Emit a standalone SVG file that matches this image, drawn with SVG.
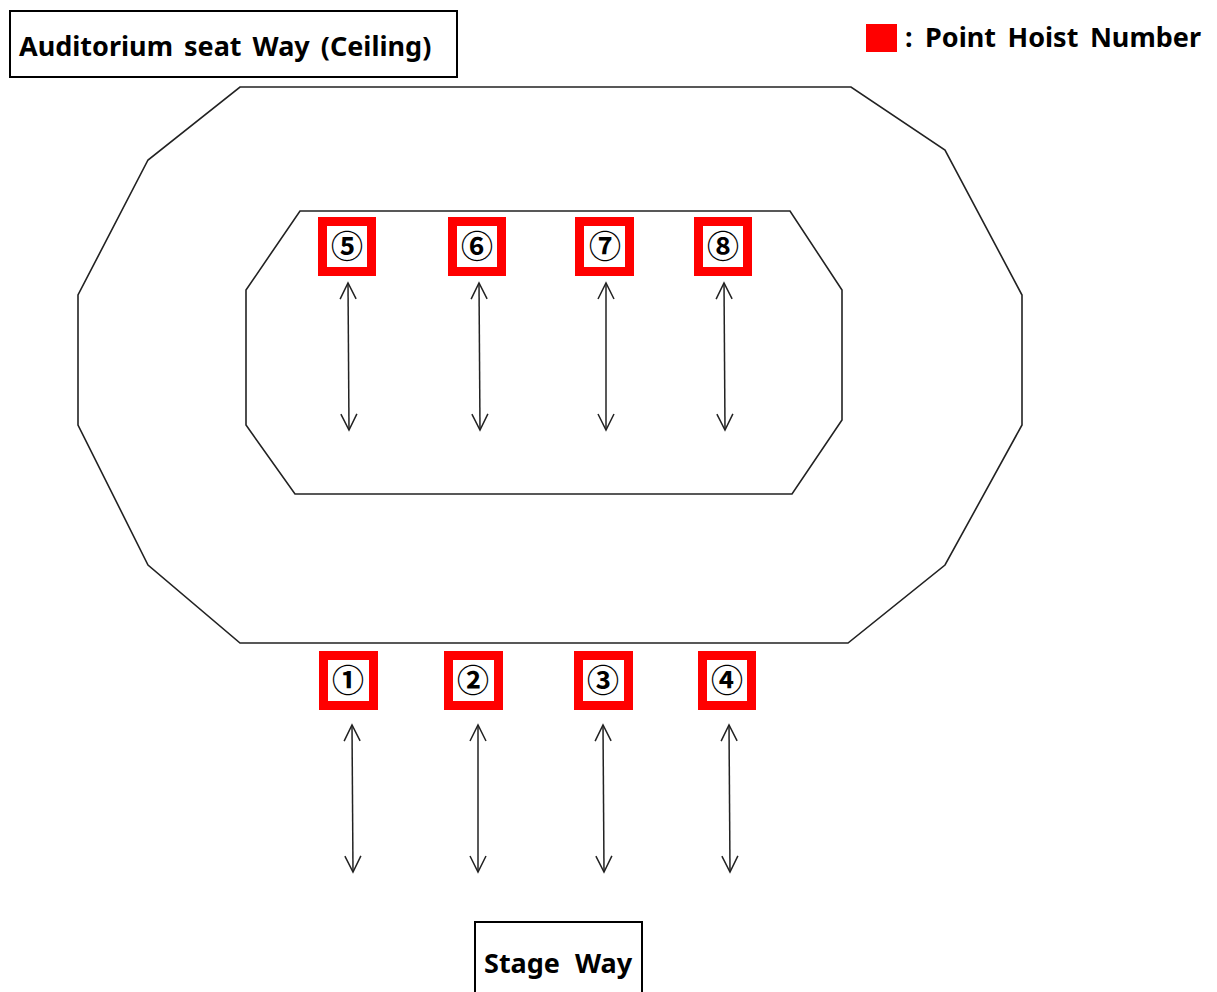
<svg xmlns="http://www.w3.org/2000/svg" width="1217" height="992" viewBox="0 0 1217 992">
<defs>
<marker id="ah" viewBox="0 0 20 20" refX="18" refY="10" markerWidth="20" markerHeight="20" markerUnits="userSpaceOnUse" orient="auto-start-reverse">
<path d="M2,2 L18,10 L2,18" fill="none" stroke="#222" stroke-width="1.5"/>
</marker>
<style>
.lbl{font-family:"Noto Sans","Liberation Sans","Noto Sans CJK KR",sans-serif;font-weight:bold;font-size:27px;fill:#000}
.box{fill:#fff;stroke:#000;stroke-width:2}
.shape{fill:none;stroke:#222;stroke-width:1.6}
.hoist{fill:#fff;stroke:#f00;stroke-width:9}
.num{font-family:"Noto Sans CJK KR","DejaVu Sans",sans-serif;font-size:32px;font-weight:bold;text-anchor:middle;fill:#000}
.arr{stroke:#222;stroke-width:1.5;fill:none;marker-start:url(#ah);marker-end:url(#ah)}
</style>
</defs>
<rect width="1217" height="992" fill="#fff"/>
<g id="title">
<rect class="box" x="10" y="11" width="447" height="66"/>
<text class="lbl" x="19" y="56" word-spacing="4">Auditorium seat Way (Ceiling)</text>
</g>
<g id="legend">
<rect x="866" y="24" width="31" height="28" fill="#f00"/>
<text class="lbl" x="905" y="47">:</text>
<text class="lbl" x="925" y="47" word-spacing="4.5">Point Hoist Number</text>
</g>
<g id="outer-ring">
<polygon class="shape" points="240,87 851,87 945,150 1022,295 1022,425 945,565 848,643 240,643 148,565 78,425 78,295 148,160"/>
</g>
<g id="inner-ring">
<polygon class="shape" points="300,211 790,211 842,290 842,420 792,494 295,494 246,425 246,290"/>
</g>
<g id="connectors">
<line class="arr" x1="348" y1="283" x2="349" y2="430"/>
<line class="arr" x1="479" y1="283" x2="480" y2="430"/>
<line class="arr" x1="606" y1="283" x2="606" y2="430"/>
<line class="arr" x1="724" y1="283" x2="725" y2="430"/>
<line class="arr" x1="352" y1="725" x2="353" y2="872"/>
<line class="arr" x1="478" y1="725" x2="478" y2="872"/>
<line class="arr" x1="603" y1="725" x2="604" y2="872"/>
<line class="arr" x1="729" y1="725" x2="730" y2="872"/>
</g>
<g id="hoist5"><rect class="hoist" x="322.5" y="221.5" width="49" height="50"/><text class="num" x="347" y="258">⑤</text></g>
<g id="hoist6"><rect class="hoist" x="452.5" y="221.5" width="49" height="50"/><text class="num" x="477" y="258">⑥</text></g>
<g id="hoist7"><rect class="hoist" x="579.5" y="221.5" width="50" height="50"/><text class="num" x="605" y="258">⑦</text></g>
<g id="hoist8"><rect class="hoist" x="698.5" y="221.5" width="49" height="50"/><text class="num" x="723" y="258">⑧</text></g>
<g id="hoist1"><rect class="hoist" x="323.5" y="655.5" width="50" height="50"/><text class="num" x="348" y="692">①</text></g>
<g id="hoist2"><rect class="hoist" x="448.5" y="655.5" width="50" height="50"/><text class="num" x="473" y="692">②</text></g>
<g id="hoist3"><rect class="hoist" x="578.5" y="655.5" width="50" height="50"/><text class="num" x="603" y="692">③</text></g>
<g id="hoist4"><rect class="hoist" x="702.5" y="655.5" width="49" height="50"/><text class="num" x="727" y="692">④</text></g>
<g id="stage">
<rect class="box" x="475" y="922" width="167" height="75"/>
<text class="lbl" x="484" y="973" word-spacing="8">Stage Way</text>
</g>
</svg>
